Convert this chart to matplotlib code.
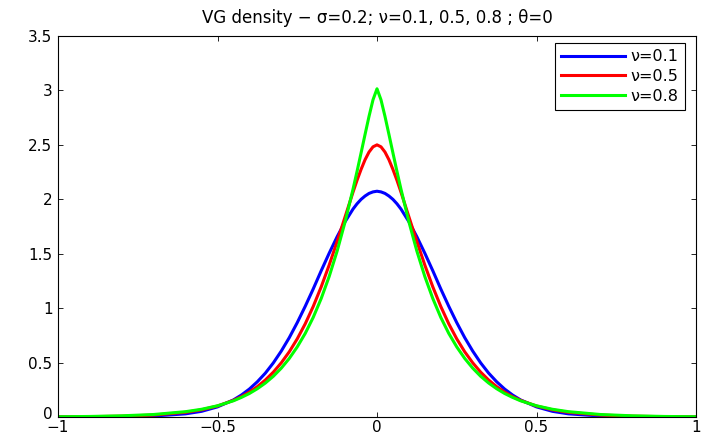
import matplotlib.pyplot as plt
import matplotlib.transforms as mtransforms
import numpy as np

plt.rcParams['font.family'] = ['DejaVu Sans']

# VG density, sigma=0.2, theta=0 -> symmetric, values read for x >= 0
x_half = [0, 0.0125, 0.025, 0.0375, 0.05, 0.0625, 0.075, 0.1, 0.125, 0.15,
          0.175, 0.2, 0.225, 0.25, 0.275, 0.3, 0.325, 0.35, 0.375, 0.4,
          0.425, 0.45, 0.5, 0.55, 0.6, 0.7, 0.8, 0.9, 1.0]
dens_nu01 = [2.074, 2.068, 2.054, 2.030, 1.999, 1.959, 1.911, 1.794, 1.656, 1.504,
             1.343, 1.176, 1.017, 0.867, 0.729, 0.606, 0.497, 0.403, 0.324, 0.257,
             0.202, 0.157, 0.093, 0.052, 0.029, 0.009, 0.0025, 0.0006, 0.0002]
dens_nu05 = [2.500, 2.482, 2.434, 2.363, 2.274, 2.175, 2.067, 1.839, 1.612, 1.395,
             1.195, 1.015, 0.856, 0.718, 0.599, 0.498, 0.412, 0.340, 0.279, 0.229,
             0.187, 0.153, 0.101, 0.066, 0.043, 0.018, 0.0075, 0.0031, 0.0013]
dens_nu08 = [3.015, 2.914, 2.762, 2.595, 2.425, 2.257, 2.095, 1.793, 1.524, 1.290,
             1.088, 0.915, 0.768, 0.644, 0.538, 0.449, 0.374, 0.312, 0.260, 0.216,
             0.180, 0.149, 0.103, 0.071, 0.049, 0.023, 0.011, 0.005, 0.0023]
labels = ['ν=0.1', 'ν=0.5', 'ν=0.8']
colors = ['#0000ff', '#ff0000', '#00ff00']

xt = [-1, -0.5, 0, 0.5, 1]
xt_labels = ['\u22121', '\u22120.5', '0', '0.5', '1']
yt = [0, 0.5, 1, 1.5, 2, 2.5, 3, 3.5]
yt_labels = ['0', '0.5', '1', '1.5', '2', '2.5', '3', '3.5']


def mirror(v):
    v = np.asarray(v, dtype=float)
    return np.concatenate([v[:0:-1], v])


xh = np.asarray(x_half, dtype=float)
x = np.concatenate([-xh[:0:-1], xh])

fig, ax = plt.subplots(figsize=(7.04, 4.38), dpi=100)
fig.subplots_adjust(left=58 / 704, right=696 / 704, bottom=1 - 417 / 438, top=1 - 36 / 438)

for dens, lab, col in zip([dens_nu01, dens_nu05, dens_nu08], labels, colors):
    ax.plot(x, mirror(dens), color=col, linewidth=2.2, label=lab)

ax.set_xlim(-1, 1)
ax.set_ylim(0, 3.5)
ax.set_xticks(xt, xt_labels)
ax.set_yticks(yt, yt_labels)
ax.tick_params(direction='in', top=True, right=True, length=3.5, width=0.6,
               labelsize=11)
ax.tick_params(axis='x', pad=2.5)
ax.tick_params(axis='y', pad=4)
for s in ax.spines.values():
    s.set_linewidth(0.8)

# lift the y "0" label a little so it clears the x "-1" label
zero_lbl = ax.get_yticklabels()[0]
zero_lbl.set_transform(zero_lbl.get_transform() +
                       mtransforms.ScaledTranslation(0, 3 / 72, fig.dpi_scale_trans))

ax.set_title('VG density \u2212 σ=0.2; ν=0.1, 0.5, 0.8 ; θ=0', fontsize=12, pad=9.5)

leg = ax.legend(loc='upper right', bbox_to_anchor=(0.983, 0.982), borderaxespad=0,
                fancybox=False, edgecolor='black', framealpha=1, fontsize=11.5,
                handlelength=4.0, handletextpad=0.35, labelspacing=0.3, borderpad=0.4)
leg.get_frame().set_linewidth(0.8)

fig.savefig('out.png', dpi=100)
